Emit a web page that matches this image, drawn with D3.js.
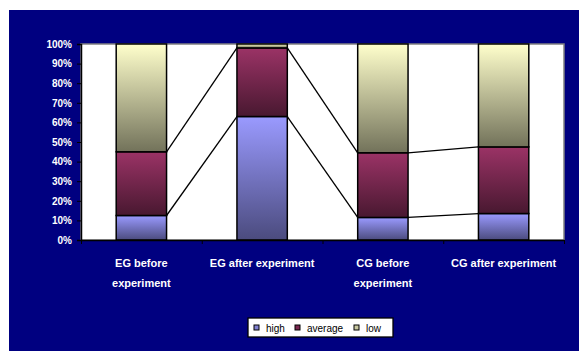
<!DOCTYPE html>
<html>
<head>
<meta charset="utf-8">
<script src="https://cdn.jsdelivr.net/npm/d3@7"></script>
<style>
  body { margin: 0; background: #fff; }
  text { font-family: "Liberation Sans", Arial, sans-serif; }
</style>
</head>
<body>
<div id="chart"></div>
<script>
var categories = [["EG before", "experiment"], ["EG after experiment"], ["CG before", "experiment"], ["CG after experiment"]];
var seriesNames = ["high", "average", "low"];
var high = [12.5, 63, 11.5, 13.5];
var average = [32.5, 35, 33, 34];
var low = [55, 2, 55.5, 52.5];
var yTicks = [0, 10, 20, 30, 40, 50, 60, 70, 80, 90, 100];

var W = 579, H = 351;
var plot = { left: 81, right: 564, top: 44, bottom: 240 };

var svg = d3.select("#chart").append("svg")
    .attr("width", W)
    .attr("height", H);

var defs = svg.append("defs");
var grads = [
    ["gHigh", "#9a9aff", "#4b4b7e"],
    ["gAvg", "#9b3366", "#481830"],
    ["gLow", "#ffffcc", "#72725a"]
];
grads.forEach(function (g) {
    var lg = defs.append("linearGradient").attr("id", g[0])
        .attr("x1", 0).attr("y1", 0).attr("x2", 0).attr("y2", 1);
    lg.append("stop").attr("offset", "0%").attr("stop-color", g[1]);
    lg.append("stop").attr("offset", "100%").attr("stop-color", g[2]);
});
var fills = ["url(#gHigh)", "url(#gAvg)", "url(#gLow)"];
var swatch = ["#8080d0", "#7a2850", "#c8c8a0"];

// navy chart area
svg.append("rect")
    .attr("x", 9).attr("y", 10)
    .attr("width", W - 9).attr("height", H - 10)
    .attr("fill", "#000080");

// plot area
svg.append("rect")
    .attr("x", plot.left).attr("y", plot.top)
    .attr("width", plot.right - plot.left).attr("height", plot.bottom - plot.top)
    .attr("fill", "#fff")
    .attr("stroke", "#808080")
    .attr("stroke-width", 1.5);

var x = d3.scaleBand()
    .domain(d3.range(categories.length))
    .range([plot.left, plot.right])
    .paddingInner(0.583)
    .paddingOuter(0.2915);

var y = d3.scaleLinear()
    .domain([0, 100])
    .range([plot.bottom, plot.top]);

var rows = d3.range(categories.length).map(function (i) {
    return { high: high[i], average: average[i], low: low[i] };
});
var stack = d3.stack().keys(seriesNames)(rows);

// series lines between bars
stack.forEach(function (s, k) {
    if (k === stack.length - 1) return;
    for (var i = 0; i < categories.length - 1; i++) {
        svg.append("line")
            .attr("x1", x(i) + x.bandwidth())
            .attr("y1", y(s[i][1]))
            .attr("x2", x(i + 1))
            .attr("y2", y(s[i + 1][1]))
            .attr("stroke", "#000")
            .attr("stroke-width", 1.3);
    }
});

// bars
stack.forEach(function (s, k) {
    svg.append("g")
        .selectAll("rect")
        .data(s)
        .enter()
        .append("rect")
        .attr("x", function (d, i) { return x(i); })
        .attr("y", function (d) { return y(d[1]); })
        .attr("width", x.bandwidth())
        .attr("height", function (d) { return y(d[0]) - y(d[1]); })
        .attr("fill", fills[k])
        .attr("stroke", "#000")
        .attr("stroke-width", 1.5);
});

// Y axis
var yAxis = svg.append("g")
    .attr("transform", "translate(" + plot.left + ",0)")
    .call(d3.axisLeft(y).tickValues(yTicks).tickSize(4).tickPadding(5)
        .tickFormat(function (d) { return d + "%"; }));
yAxis.select(".domain").attr("stroke", "#000").attr("stroke-width", 1.5);
yAxis.selectAll(".tick line").attr("stroke", "#000");
yAxis.selectAll("text")
    .attr("fill", "#fff")
    .attr("font-size", 10)
    .attr("font-weight", "bold")
    .style("font-family", "'Liberation Sans', Arial, sans-serif");

// X axis
var xEdges = d3.scaleLinear().domain([0, categories.length]).range([plot.left, plot.right]);
var xAxis = svg.append("g")
    .attr("transform", "translate(0," + plot.bottom + ")")
    .call(d3.axisBottom(xEdges).tickValues(d3.range(categories.length + 1))
        .tickSize(4).tickSizeOuter(0).tickFormat(""));
xAxis.select(".domain").attr("stroke", "#000").attr("stroke-width", 1.5);
xAxis.selectAll(".tick line").attr("stroke", "#000");

categories.forEach(function (lines, i) {
    var t = svg.append("text")
        .attr("x", x(i) + x.bandwidth() / 2)
        .attr("y", 267)
        .attr("text-anchor", "middle")
        .attr("fill", "#fff")
        .attr("font-size", 11)
        .attr("font-weight", "bold");
    lines.forEach(function (l, j) {
        t.append("tspan")
            .attr("x", x(i) + x.bandwidth() / 2)
            .attr("dy", j === 0 ? 0 : 20)
            .text(l);
    });
});

// legend
var leg = svg.append("g").attr("transform", "translate(248,318)");
leg.append("rect")
    .attr("width", 145).attr("height", 19)
    .attr("fill", "#fff")
    .attr("stroke", "#000")
    .attr("stroke-width", 1.3);
var legX = [6, 47, 106];
seriesNames.forEach(function (n, k) {
    leg.append("rect")
        .attr("x", legX[k]).attr("y", 7)
        .attr("width", 5).attr("height", 5)
        .attr("fill", swatch[k])
        .attr("stroke", "#000")
        .attr("stroke-width", 1);
    leg.append("text")
        .attr("x", legX[k] + 12).attr("y", 13.5)
        .attr("font-size", 10)
        .attr("fill", "#000")
        .text(n);
});
</script>
</body>
</html>
